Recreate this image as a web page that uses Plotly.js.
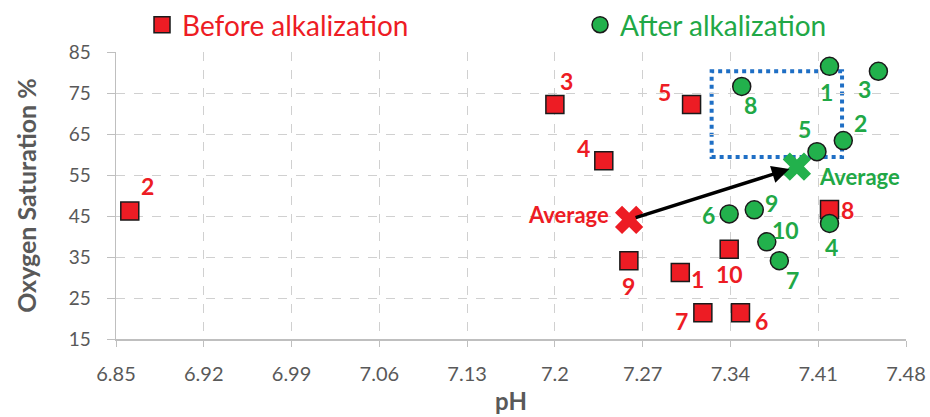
<!DOCTYPE html>
<html>
<head>
<meta charset="utf-8">
<script src="https://cdn.plot.ly/plotly-3.0.1.min.js"></script>
<style>html,body{margin:0;padding:0;background:#fff;}#chart{width:930px;height:417px;}</style>
</head>
<body>
<div id="chart"></div>
<script>
// ---- data ----
const patientIds = ['1','2','3','4','5','6','7','8','9','10'];
const beforePH = [7.300, 6.861, 7.200, 7.239, 7.309, 7.348, 7.318, 7.419, 7.259, 7.339];
const beforeO2 = [31.2, 46.2, 72.2, 58.5, 72.2, 21.4, 21.4, 46.6, 34.1, 36.9];
const afterPH  = [7.419, 7.430, 7.458, 7.419, 7.409, 7.339, 7.379, 7.349, 7.359, 7.369];
const afterO2  = [81.5, 63.4, 80.3, 43.2, 60.7, 45.5, 34.1, 76.6, 46.5, 38.7];
const xTicks = [6.85, 6.92, 6.99, 7.06, 7.13, 7.2, 7.27, 7.34, 7.41, 7.48];
const yTicks = [15, 25, 35, 45, 55, 65, 75, 85];
const highlightPH = [7.325, 7.429];
const highlightO2 = [59.4, 80.3];

// ---- styles ----
const RED = '#ed1c24', GREEN = '#22b14c', GREENTXT = '#21a846', GRAY = '#595959';
const FONT = 'Lato, "Open Sans", sans-serif';
const beforeLabelShift = [[17,-6],[18,25],[12,23],[-20,13],[-27,12],[21,-8],[-21,-8],[18,-1],[0,-25],[0,-25]];
const afterLabelShift  = [[-3,-26],[17,18],[-14,-18],[2,-24],[-12,23],[-21,-1],[13,-19],[9,-19],[17,7],[19,12]];

const mean = a => a.reduce((s,v)=>s+v,0)/a.length;
const bAvg = [mean(beforePH), mean(beforeO2)];
const aAvg = [mean(afterPH), mean(afterO2)];

const traces = [
  {x: beforePH, y: beforeO2, type:'scatter', mode:'markers', legend:'legend',
   name:'<span style="color:'+RED+'">Before alkalization</span>',
   marker:{symbol:'square', size:18, color:RED, line:{color:'#1a1a1a', width:1.5}}},
  {x: afterPH, y: afterO2, type:'scatter', mode:'markers', legend:'legend2',
   name:'<span style="color:'+GREENTXT+'">After alkalization</span>',
   marker:{symbol:'circle', size:18, color:GREEN, line:{color:'#1a1a1a', width:1.5}}},
  {x:[bAvg[0]], y:[bAvg[1]], type:'scatter', mode:'markers', showlegend:false,
   marker:{symbol:'x', size:25, color:RED, line:{width:0}}},
  {x:[aAvg[0]], y:[aAvg[1]], type:'scatter', mode:'markers', showlegend:false,
   marker:{symbol:'x', size:25, color:GREEN, line:{width:0}}}
];

const annotations = [];
patientIds.forEach((id,i)=>{
  annotations.push({x:beforePH[i], y:beforeO2[i], text:id, showarrow:false,
    xshift:beforeLabelShift[i][0], yshift:beforeLabelShift[i][1],
    font:{family:FONT, size:23, color:RED, weight:'bold'}});
  annotations.push({x:afterPH[i], y:afterO2[i], text:id, showarrow:false,
    xshift:afterLabelShift[i][0], yshift:afterLabelShift[i][1],
    font:{family:FONT, size:23, color:GREENTXT, weight:'bold'}});
});
annotations.push({x:bAvg[0], y:bAvg[1], text:'Average', showarrow:false, xshift:-61, yshift:5,
  font:{family:FONT, size:22, color:RED, weight:'bold'}});
annotations.push({x:aAvg[0], y:aAvg[1], text:'Average', showarrow:false, xshift:63, yshift:-10,
  font:{family:FONT, size:22, color:GREENTXT, weight:'bold'}});
annotations.push({x:aAvg[0]-0.006, y:aAvg[1]-0.6, ax:bAvg[0]+0.004, ay:bAvg[1]+0.4,
  xref:'x', yref:'y', axref:'x', ayref:'y', text:'', showarrow:true,
  arrowhead:2, arrowsize:1, arrowwidth:3.5, arrowcolor:'#000'});

const legendBase = {orientation:'h', xref:'container', yref:'container', y:0.94,
  xanchor:'left', yanchor:'middle', font:{family:FONT, size:28}, bgcolor:'rgba(0,0,0,0)'};

const layout = {
  width:930, height:417,
  margin:{l:116, r:24, t:52, b:78},
  paper_bgcolor:'#fff', plot_bgcolor:'#fff',
  font:{family:FONT, color:GRAY},
  showlegend:true,
  legend:Object.assign({}, legendBase, {x:0.1527}),
  legend2:Object.assign({}, legendBase, {x:0.6237}),
  xaxis:{range:[6.85,7.48], tickvals:xTicks, ticktext:xTicks.map(String),
    showgrid:true, gridcolor:'#d0d0d0', griddash:'dash', gridwidth:1,
    showline:true, linecolor:'#bfbfbf', linewidth:1.5, zeroline:false,
    ticks:'outside', ticklen:6, tickcolor:'#bfbfbf', ticklabelstandoff:10,
    tickfont:{family:FONT, size:20, color:GRAY},
    title:{text:'pH', font:{family:FONT, size:24, color:GRAY, weight:'bold'}, standoff:9}},
  yaxis:{range:[15,85], tickvals:yTicks,
    showgrid:true, gridcolor:'#d0d0d0', griddash:'dash', gridwidth:1,
    showline:true, linecolor:'#bfbfbf', linewidth:1.5, zeroline:false,
    ticks:'outside', ticklen:8, tickcolor:'#bfbfbf', ticklabelstandoff:12,
    tickfont:{family:FONT, size:19, color:GRAY},
    title:{text:'Oxygen Saturation %', font:{family:FONT, size:25, color:GRAY, weight:'bold'}, standoff:25}},
  shapes:[{type:'rect', xref:'x', yref:'y', x0:highlightPH[0], x1:highlightPH[1], y0:highlightO2[0], y1:highlightO2[1],
    line:{color:'#1f6fc5', width:4, dash:'dot'}, fillcolor:'rgba(0,0,0,0)', layer:'below'}],
  annotations:annotations
};

Plotly.newPlot('chart', traces, layout, {displayModeBar:false, staticPlot:true});
</script>
</body>
</html>
